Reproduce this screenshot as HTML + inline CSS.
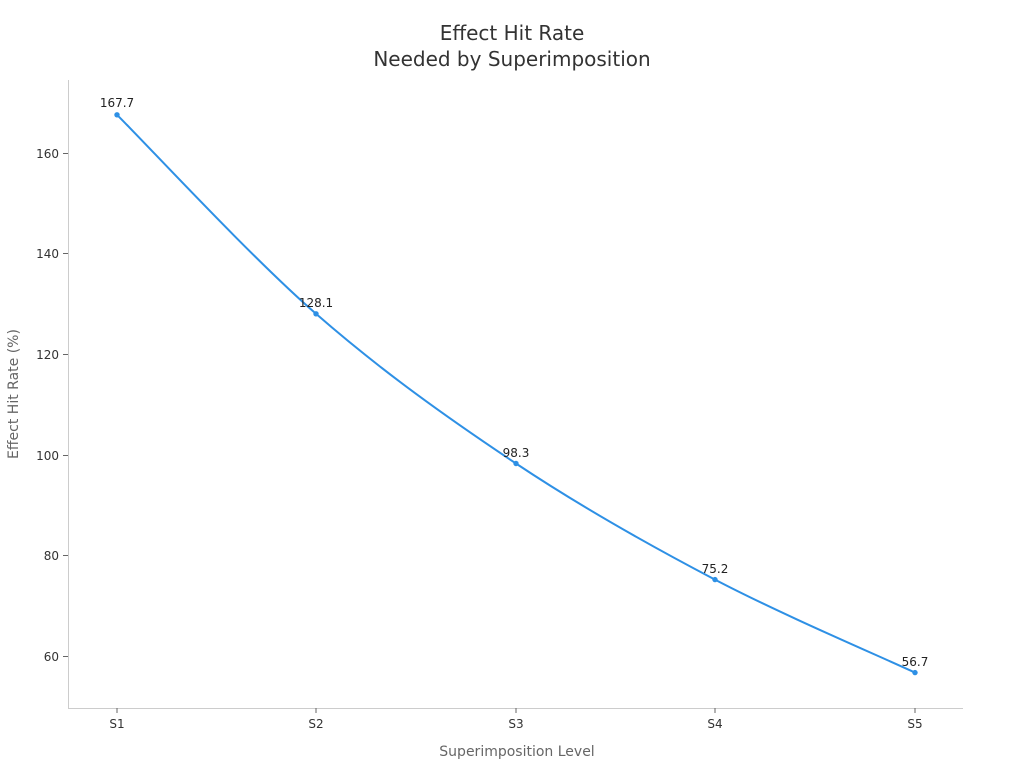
<!DOCTYPE html>
<html><head><meta charset="utf-8"><style>
body{margin:0;background:#fff;}
svg{display:block;font-family:"DejaVu Sans","Liberation Sans",sans-serif;}
</style></head><body>
<svg width="1024" height="768" viewBox="0 0 1024 768" xmlns="http://www.w3.org/2000/svg">
<text x="512" y="40" text-anchor="middle" font-size="20" fill="#333">Effect Hit Rate</text>
<text x="512" y="66" text-anchor="middle" font-size="20" fill="#333">Needed by Superimposition</text>
<line x1="68.5" y1="80" x2="68.5" y2="708" stroke="#ccc"/>
<line x1="68" y1="708.5" x2="963" y2="708.5" stroke="#ccc"/>
<g stroke="#666">
<line x1="63" y1="153.5" x2="68" y2="153.5"/>
<line x1="63" y1="253.5" x2="68" y2="253.5"/>
<line x1="63" y1="354.5" x2="68" y2="354.5"/>
<line x1="63" y1="455.5" x2="68" y2="455.5"/>
<line x1="63" y1="555.5" x2="68" y2="555.5"/>
<line x1="63" y1="656.5" x2="68" y2="656.5"/>
<line x1="117" y1="708" x2="117" y2="713"/>
<line x1="316" y1="708" x2="316" y2="713"/>
<line x1="516" y1="708" x2="516" y2="713"/>
<line x1="715" y1="708" x2="715" y2="713"/>
<line x1="915" y1="708" x2="915" y2="713"/>
</g>
<g font-size="12" fill="#333" text-anchor="end">
<text x="59" y="158">160</text>
<text x="59" y="258">140</text>
<text x="59" y="359">120</text>
<text x="59" y="460">100</text>
<text x="59" y="560">80</text>
<text x="59" y="661">60</text>
</g>
<g font-size="12" fill="#333" text-anchor="middle">
<text x="117" y="728">S1</text>
<text x="316" y="728">S2</text>
<text x="516" y="728">S3</text>
<text x="715" y="728">S4</text>
<text x="915" y="728">S5</text>
</g>
<text x="517" y="756" text-anchor="middle" font-size="14" fill="#666">Superimposition Level</text>
<text transform="translate(18,394) rotate(-90)" text-anchor="middle" font-size="14" fill="#666">Effect Hit Rate (%)</text>
<path d="M117,114.8 C150.2,148 249.5,255.7 316,313.8 C382.5,371.9 449.5,419.2 516,463.5 C582.5,507.8 648.5,544.75 715,579.6 C781.5,614.45 881.7,657.1 915,672.6" fill="none" stroke="#2e90e5" stroke-width="2"/>
<g fill="#2e90e5">
<circle cx="117" cy="114.8" r="2.7"/>
<circle cx="316" cy="313.8" r="2.7"/>
<circle cx="516" cy="463.5" r="2.7"/>
<circle cx="715" cy="579.6" r="2.7"/>
<circle cx="915" cy="672.6" r="2.7"/>
</g>
<g font-size="12" fill="#222" text-anchor="middle">
<text x="117" y="107">167.7</text>
<text x="316" y="307">128.1</text>
<text x="516" y="457">98.3</text>
<text x="715" y="573">75.2</text>
<text x="915" y="666">56.7</text>
</g>
</svg>
</body></html>
